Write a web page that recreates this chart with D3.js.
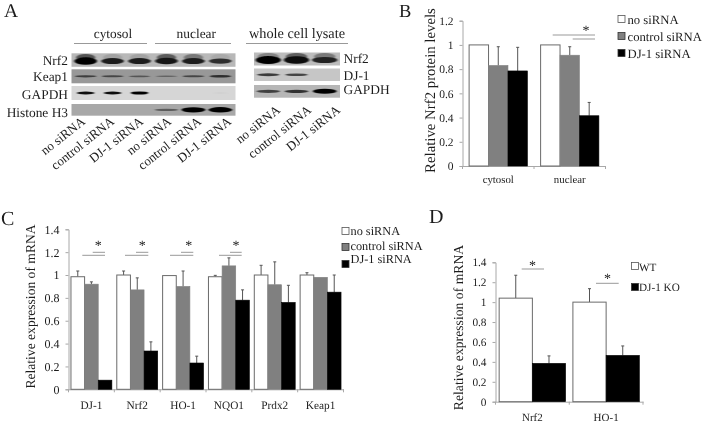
<!DOCTYPE html>
<html><head><meta charset="utf-8">
<script src="https://cdn.jsdelivr.net/npm/d3@7/dist/d3.min.js"></script>
<style>
html,body{margin:0;padding:0;background:#fff}
svg{display:block;filter:blur(0.35px)}
text{font-family:"Liberation Serif",serif;fill:#1c1c1c;text-rendering:geometricPrecision}
</style></head><body>
<svg id="c" width="704" height="424"></svg>
<script>
// ---- data ----
const seriesSi = ["no siRNA","control siRNA","DJ-1 siRNA"];
const seriesKO = ["WT","DJ-1 KO"];
const catsB = ["cytosol","nuclear"];
const valsB = [[1,0.83,0.785],[1,0.915,0.415]];
const errB  = [[0,0.155,0.195],[0,0.07,0.11]];
const ticksB = [0,0.2,0.4,0.6,0.8,1,1.2];
const catsC = ["DJ-1","Nrf2","HO-1","NQO1","Prdx2","Keap1"];
const valsC = [[0.985,0.92,0.08],[1,0.87,0.335],[0.995,0.9,0.23],[0.985,1.08,0.78],[1,0.915,0.76],[1,0.98,0.85]];
const errC  = [[0.05,0.02,0],[0.035,0.105,0.08],[0,0.135,0.06],[0.012,0.07,0.09],[0.085,0.2,0.15],[0.02,0,0.15]];
const ticksC = [0,0.2,0.4,0.6,0.8,1,1.2,1.4];
const catsD = ["Nrf2","HO-1"];
const valsD = [[1.04,0.385],[1,0.465]];
const errD  = [[0.23,0.075],[0.135,0.095]];
const lanesLeft = ["no siRNA","control siRNA","DJ-1 siRNA","no siRNA","control siRNA","DJ-1 siRNA"];
const lanesRight = ["no siRNA","control siRNA","DJ-1 siRNA"];
const rowsLeft = ["Nrf2","Keap1","GAPDH","Histone H3"];
const rowsRight = ["Nrf2","DJ-1","GAPDH"];
// band darkness per lane (0 none – 1 black), per row
const bandsLeft = [[1,0.85,0.85,0.88,0.85,0.75],[0.6,0.55,0.45,0.35,0.55,0.7],[0.95,0.95,1,0,0,0.04],[0,0,0,0.45,0.97,1]];
const smearLeft = [[0.55,0.12,0.12,0.5,0.35,0.08],[0,0,0,0,0,0],[0,0,0,0,0,0],[0,0,0,0,0,0]];
const bandsRight = [[1,0.95,0.82],[0.7,0.65,0],[0.65,0.72,1]];
const smearRight = [[0.3,0.5,0.35],[0,0,0],[0,0,0]];
const rowGreyLeft = ["#b8b8b8","#989898","#d6d6d6","#a8a8a8"];
const rowGreyRight = ["#bcbcbc","#c6c6c6","#b6b6b6"];
const bandHLeft = [6.5,2.8,2.2,4.5];
const bandHRight = [7,3.2,4];
const bandWLeft = [0.9,0.85,0.7,0.95];
const bandWRight = [0.95,0.85,0.9];
const colors3 = ["#ffffff","#808080","#000000"];
const colorsKO = ["#ffffff","#000000"];

const svg = d3.select("#c");
const defs = svg.append("defs");
defs.append("filter").attr("id","blur").attr("x","-20%").attr("y","-150%").attr("width","140%").attr("height","400%")
  .append("feGaussianBlur").attr("stdDeviation","1.2 0.7");

function panelLetter(t,x,y,s){svg.append("text").attr("x",x).attr("y",y).attr("font-size",s).text(t);}
panelLetter("A",4,17,19.5);panelLetter("B",399,16.5,18.5);panelLetter("C",1,225,20);panelLetter("D",429,223,20);

// ---- blots ----
function blot(x0,x1,lanes,rows,bands,smear,greys,heights,widths,yTop,rowH,laneRange){
  const lx=d3.scaleBand().domain(d3.range(lanes.length)).range(laneRange).paddingInner(0.06);
  rows.forEach((r,i)=>{
    const y=yTop[i];
    svg.append("rect").attr("x",x0).attr("y",y).attr("width",x1-x0).attr("height",rowH[i]).attr("fill",greys[i]);
    const clipId="clip"+Math.round(x0)+i;
    defs.append("clipPath").attr("id",clipId).append("rect").attr("x",x0).attr("y",y).attr("width",x1-x0).attr("height",rowH[i]);
    const outer=svg.append("g").attr("clip-path",`url(#${clipId})`);
    const g=outer.append("g").attr("filter","url(#blur)");
    smear[i].forEach((s,j)=>{
      if(s<=0)return;
      g.append("ellipse").attr("cx",lx(j)+lx.bandwidth()/2).attr("cy",y+rowH[i]/2-2.5)
       .attr("rx",lx.bandwidth()/2*widths[i]*0.85).attr("ry",3.5)
       .attr("fill",d3.interpolateRgb(greys[i],"#000")(s));
    });
    bands[i].forEach((b,j)=>{
      if(b<=0)return;
      g.append("ellipse").attr("cx",lx(j)+lx.bandwidth()/2).attr("cy",y+rowH[i]/2+(heights[i]>5?1:0))
       .attr("rx",lx.bandwidth()/2*widths[i]).attr("ry",heights[i]/2*Math.pow(b,1.5)+0.5)
       .attr("fill",d3.interpolateRgb(greys[i],"#000")(b));
    });
  });
}
const topL=[53.3,69.3,86,104], hL=[13.5,14,14,11.7];
const topR=[52.5,68.5,85], hR=[13,12.5,12.7];
const baseL=[65,80.7,99,116.5], baseR=[63,80,94];
blot(71.5,235.5,lanesLeft,rowsLeft,bandsLeft,smearLeft,rowGreyLeft,bandHLeft,bandWLeft,topL,hL,[73,233]);
blot(254,340,lanesRight,rowsRight,bandsRight,smearRight,rowGreyRight,bandHRight,bandWRight,topR,hR,[255,338]);
rowsLeft.forEach((r,i)=>svg.append("text").attr("x",68).attr("y",baseL[i]).attr("text-anchor","end").attr("font-size",13.4).text(r));
rowsRight.forEach((r,i)=>svg.append("text").attr("x",343.5).attr("y",baseR[i]).attr("font-size",13.4).text(r));
[["cytosol",74,147,113,13.3],["nuclear",155,231,196.3,13.4],["whole cell lysate",246,348,297,14.3]].forEach(([t,a,b,c,s])=>{
  svg.append("text").attr("x",c).attr("y",37.7).attr("text-anchor","middle").attr("font-size",s).text(t);
  svg.append("line").attr("x1",a).attr("x2",b).attr("y1",43.5).attr("y2",43.5).attr("stroke","#999");
});
const laneXL=[86,115,144,172,202,232];
lanesLeft.forEach((t,i)=>svg.append("text").attr("transform",`translate(${laneXL[i]},${123}) rotate(-38.5)`).attr("text-anchor","end").attr("font-size",13).text(t));
const laneXR=[281,312,341];
lanesRight.forEach((t,i)=>svg.append("text").attr("transform",`translate(${laneXR[i]},${111.5}) rotate(-38.5)`).attr("text-anchor","end").attr("font-size",13).text(t));

// ---- bar panels ----
function barPanel(o){
  const x=d3.scaleBand().domain(o.cats).range([o.left,o.right]);
  const y=d3.scaleLinear().domain([0,o.max]).range([o.bottom,o.top]);
  const inner=d3.scaleBand().domain(d3.range(o.colors.length)).range([0,x.bandwidth()]).paddingOuter(o.pad).paddingInner(0);
  const g=svg.append("g");
  const ax=g.append("g").attr("transform",`translate(0,${o.bottom})`).call(d3.axisBottom(x).tickSize(0).tickPadding(o.xPad));
  ax.selectAll(".tick text").attr("font-size",o.catSize).attr("font-family","Liberation Serif").attr("fill","#1c1c1c");
  ax.select(".domain").attr("stroke","#a8a8a8");
  o.cats.concat("_").forEach((c,i)=>{
    const px=o.left+i*x.step();
    g.append("line").attr("x1",px).attr("x2",px).attr("y1",o.bottom).attr("y2",o.bottom+3).attr("stroke","#a8a8a8");
  });
  const ay=g.append("g").attr("transform",`translate(${o.left},0)`).call(d3.axisLeft(y).tickValues(o.ticks).tickSize(3).tickPadding(o.yPad).tickFormat(d3.format("~g")));
  ay.selectAll(".tick text").attr("font-size",o.tickSize).attr("font-family","Liberation Serif").attr("fill","#1c1c1c");
  ay.selectAll("path,line").attr("stroke","#a8a8a8");
  o.vals.forEach((row,i)=>row.forEach((v,j)=>{
    const bx=x(o.cats[i])+inner(j), w=inner.bandwidth();
    const e=o.errs[i][j];
    if(e>0){
      const cx=bx+w/2;
      g.append("line").attr("x1",cx).attr("x2",cx).attr("y1",y(v)).attr("y2",y(v+e)).attr("stroke","#555");
      g.append("line").attr("x1",cx-1.5).attr("x2",cx+1.5).attr("y1",y(v+e)).attr("y2",y(v+e)).attr("stroke","#555");
    }
    g.append("rect").attr("x",bx).attr("y",y(v)).attr("width",w).attr("height",y(0)-y(v))
     .attr("fill",o.colors[j]).attr("stroke",o.colors[j]==="#ffffff"?"#6a6a6a":o.colors[j]).attr("stroke-width",o.colors[j]==="#ffffff"?1:0.6);
  }));
  svg.append("text").attr("transform",`translate(${o.labelX},${o.labelMid}) rotate(-90)`).attr("text-anchor","middle").attr("font-size",o.labelSize).text(o.label);
  o.legend.names.forEach((n,i)=>{
    const ly=o.legend.ys[i];
    svg.append("rect").attr("x",o.legend.x).attr("y",ly-3.5).attr("width",7).attr("height",7)
      .attr("fill",o.colors[i]).attr("stroke",o.colors[i]==="#ffffff"?"#555":"#333").attr("stroke-width",0.8);
    svg.append("text").attr("x",o.legend.x+o.legend.gap).attr("y",o.legend.tys[i]).attr("font-size",o.legend.size).text(n);
  });
  o.sig.forEach(s=>{
    svg.append("text").attr("x",s.x).attr("y",s.y).attr("text-anchor","middle").attr("font-size",14).attr("fill","#444").text("*");
    s.lines.forEach(l=>svg.append("line").attr("x1",l[0]).attr("x2",l[1]).attr("y1",l[2]).attr("y2",l[2]).attr("stroke","#999"));
  });
}
barPanel({cats:catsB,vals:valsB,errs:errB,colors:colors3,ticks:ticksB,max:1.2,left:462.5,right:605.5,top:20.7,bottom:166,pad:0.34,xPad:9,yPad:6,catSize:10.8,tickSize:11.5,
  label:"Relative Nrf2 protein levels",labelX:435,labelMid:90.5,labelSize:14.8,
  legend:{x:618,gap:9.5,ys:[19,36,53],tys:[23.5,40.5,58],names:seriesSi,size:12.7},
  sig:[{x:586,y:34.5,lines:[[552.7,595,35],[572.7,595,39]]}]});
barPanel({cats:catsC,vals:valsC,errs:errC,colors:colors3,ticks:ticksC,max:1.4,left:68.5,right:343.5,top:229.3,bottom:389.3,pad:0.18,xPad:12,yPad:6,catSize:11.3,tickSize:12,
  label:"Relative expression of mRNA",labelX:35,labelMid:306.5,labelSize:13.6,
  legend:{x:342,gap:8.5,ys:[231,247,264],tys:[235,250,263],names:seriesSi,size:12.3},
  sig:[{x:98.3,y:250,lines:[[82.3,105,255.3],[92.7,105,252.3]]},{x:142.3,y:250,lines:[[125,148.3,255.3],[136,148.3,252.3]]},{x:188.7,y:250,lines:[[170,193.3,255.3],[181,193.3,252.3]]},{x:236,y:250,lines:[[219,241.7,255.3],[230,241.7,252.3]]}]});
barPanel({cats:catsD,vals:valsD,errs:errD,colors:colorsKO,ticks:ticksC,max:1.4,left:495.5,right:643,top:262.3,bottom:401.7,pad:0.11,xPad:12,yPad:6,catSize:11,tickSize:11.3,
  label:"Relative expression of mRNA",labelX:462.5,labelMid:327.5,labelSize:13.7,
  legend:{x:631.5,gap:7.5,ys:[266,287],tys:[270.5,291],names:seriesKO,size:11.2},
  sig:[{x:532.5,y:270,lines:[[521.7,544,269]]},{x:607.5,y:283,lines:[[596,618.7,283.3]]}]});
</script>
</body></html>
